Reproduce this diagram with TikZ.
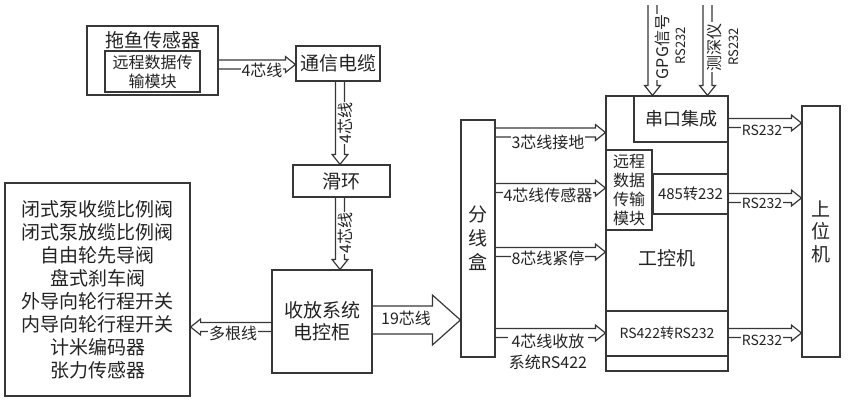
\documentclass[tikz,border=0pt]{standalone}
\usepackage{fontspec}
\setmainfont{Noto Sans CJK SC}
\usetikzlibrary{calc}
\definecolor{dgLine}{RGB}{55,55,55}
\definecolor{dgText}{RGB}{35,35,35}
\tikzset{
  box/.style={draw=dgLine, line width=1.2pt, inner sep=0pt, text=dgText, align=center, font=\fontsize{19}{23}\selectfont},
  txt/.style={inner sep=0pt, text=dgText, align=center, font=\fontsize{19}{23}\selectfont},
  lbl/.style={fill=white, inner sep=1pt, text=dgText, align=center, font=\fontsize{16}{21}\selectfont},
  pipe/.style={draw=dgLine, line width=1.2pt, to path={
    let \p1=($(\tikztotarget)!\pipeH!(\tikztostart)$) in
    ($(\tikztostart)!\pipeW!90:(\tikztotarget)$) -- ($(\p1)!\pipeW!-90:(\tikztostart)$)
    -- ($(\p1)!\pipeA!-90:(\tikztostart)$) -- (\tikztotarget)
    -- ($(\p1)!\pipeA!90:(\tikztostart)$) -- ($(\p1)!\pipeW!90:(\tikztostart)$)
    -- ($(\tikztostart)!\pipeW!-90:(\tikztotarget)$)}},
  thin pipe/.style={pipe, /utils/exec={\def\pipeW{4.5pt}\def\pipeA{8pt}\def\pipeH{10pt}}},
  fat pipe/.style={pipe, /utils/exec={\def\pipeW{14pt}\def\pipeA{25pt}\def\pipeH{28pt}}},
}
\begin{document}
\begin{tikzpicture}[x=1pt, y=-1pt]
  \useasboundingbox (0,0) rectangle (848,400);
  % towfish and cable chain
  \node[box, minimum width=131pt, minimum height=69pt] (tuoyu) at (152.5,60.5) {};
  \node[txt] (tuoyuT) at (153,40) {拖鱼传感器};
  \node[box, minimum width=95pt, minimum height=41pt, font=\fontsize{16}{19}\selectfont] (tuoyuM) at (152.5,71.5) {远程数据传\\输模块};
  \node[box, minimum width=84pt, minimum height=35pt] (cable) at (338,63.5) {通信电缆};
  \node[box, minimum width=97pt, minimum height=32pt] (ring) at (341.5,181) {滑环};
  \node[box, minimum width=100pt, minimum height=103pt, font=\fontsize{19}{22}\selectfont] (cab) at (322,321.5) {收放系统\\电控柜};
  \node[box, minimum width=185pt, minimum height=213pt] (valves) at (97.5,289.5) {闭式泵收缆比例阀\\闭式泵放缆比例阀\\自由轮先导阀\\盘式刹车阀\\外导向轮行程开关\\内导向轮行程开关\\计米编码器\\张力传感器};

  \draw[thin pipe] (tuoyu.east |- 0,64.5) to (cable.west |- 0,64.5);
  \node[lbl] (l1) at (262,70) {4芯线};
  \draw[thin pipe] (cable.south -| 340,0) to (ring.north -| 340,0);
  \node[lbl, rotate=90] (l2) at (345,123) {4芯线};
  \draw[thin pipe] (ring.south -| 340,0) to (cab.north -| 340,0);
  \node[lbl, rotate=90] (l3) at (345,233) {4芯线};
  \draw[thin pipe] (cab.west |- 0,327) to (valves.east |- 0,327);
  \node[lbl] (l4) at (233,333) {多根线};

  % junction box, IPC and host
  \node[box, minimum width=34pt, minimum height=237pt, font=\fontsize{19}{24}\selectfont] (hub) at (478,238.5) {分\\线\\盒};
  \node[box, minimum width=122pt, minimum height=275pt] (ipc) at (667,233.5) {};
  \node[txt] (ipcT) at (667,258) {工控机};
  \node[box, minimum width=94pt, minimum height=46pt, font=\fontsize{18}{22}\selectfont] (serial) at (681,119) {串口集成};
  \node[box, minimum width=46pt, minimum height=80pt, font=\fontsize{16}{19}\selectfont] (remote) at (629,190) {远程\\数据\\传输\\模块};
  \node[box, minimum width=75pt, minimum height=40pt, font=\fontsize{15}{18}\selectfont] (r485) at (690.5,194) {485转232};
  \node[box, minimum width=122pt, minimum height=45pt, font=\fontsize{14}{18}\selectfont] (r422) at (667,333.5) {RS422转RS232};
  \node[box, minimum width=38pt, minimum height=251pt, font=\fontsize{19}{22.5}\selectfont] (host) at (821,231.5) {上\\位\\机};

  \draw[fat pipe] (cab.east |- 0,320) to (hub.west |- 0,320);
  \node[txt, font=\fontsize{16}{19}\selectfont] (l5) at (406,318) {19芯线};

  \draw[thin pipe] (hub.east |- 0,132.5) to (ipc.west |- 0,132.5);
  \node[lbl] (l6) at (548,142) {3芯线接地};
  \draw[thin pipe] (hub.east |- 0,188) to (ipc.west |- 0,188);
  \node[lbl] (l7) at (548,195) {4芯线传感器};
  \draw[thin pipe] (hub.east |- 0,252) to (ipc.west |- 0,252);
  \node[lbl] (l8) at (548,258) {8芯线紧停};
  \draw[thin pipe] (hub.east |- 0,333) to (ipc.west |- 0,333);
  \node[lbl] (l9) at (548,352) {4芯线收放\\系统RS422};

  \draw[thin pipe] (ipc.east |- 0,123) to (host.west |- 0,123);
  \node[lbl, font=\fontsize{14}{16}\selectfont] (r1) at (762,130) {RS232};
  \draw[thin pipe] (ipc.east |- 0,198) to (host.west |- 0,198);
  \node[lbl, font=\fontsize{14}{16}\selectfont] (r2) at (762,203) {RS232};
  \draw[thin pipe] (ipc.east |- 0,333) to (host.west |- 0,333);
  \node[lbl, font=\fontsize{14}{16}\selectfont] (r3) at (762,340) {RS232};

  % serial inputs from above
  \coordinate (gpsIn) at (652.5,5);
  \coordinate (depthIn) at (707.5,5);
  \draw[thin pipe] (gpsIn) to (ipc.north -| gpsIn);
  \node[lbl, rotate=90] (g1) at (662,47) {GPG信号};
  \node[txt, rotate=90, font=\fontsize{13}{15}\selectfont] (g2) at (681,46) {RS232};
  \draw[thin pipe] (depthIn) to (ipc.north -| depthIn);
  \node[lbl, rotate=90] (d1) at (714,47) {测深仪};
  \node[txt, rotate=90, font=\fontsize{13}{15}\selectfont] (d2) at (734,47) {RS232};
\end{tikzpicture}
\end{document}
